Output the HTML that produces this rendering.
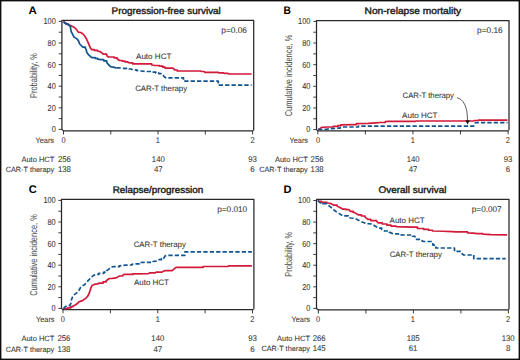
<!DOCTYPE html>
<html><head><meta charset="utf-8"><style>
html,body{margin:0;padding:0;background:#fff;}
body{width:520px;height:360px;overflow:hidden;font-family:"Liberation Sans", sans-serif;}
svg{display:block;}
</style></head><body>
<svg width="520" height="360" viewBox="0 0 520 360" font-family='"Liberation Sans", sans-serif' text-rendering="geometricPrecision">
<rect x="0" y="0" width="520" height="360" fill="#fff"/>
<text x="28.60" y="14.00" font-size="11" textLength="8.30" lengthAdjust="spacingAndGlyphs" font-weight="bold" fill="#000">A</text>
<text x="283.60" y="14.00" font-size="11" textLength="7.40" lengthAdjust="spacingAndGlyphs" font-weight="bold" fill="#000">B</text>
<text x="28.70" y="193.00" font-size="11" textLength="8.00" lengthAdjust="spacingAndGlyphs" font-weight="bold" fill="#000">C</text>
<text x="283.60" y="192.90" font-size="11" textLength="8.00" lengthAdjust="spacingAndGlyphs" font-weight="bold" fill="#000">D</text>
<text x="111.60" y="14.20" font-size="9.6" textLength="109.20" lengthAdjust="spacingAndGlyphs" fill="#231f20" stroke="#231f20" stroke-width="0.42">Progression-free survival</text>
<text x="364.60" y="14.20" font-size="9.6" textLength="96.60" lengthAdjust="spacingAndGlyphs" fill="#231f20" stroke="#231f20" stroke-width="0.42">Non-relapse mortality</text>
<text x="112.70" y="193.00" font-size="9.6" textLength="90.60" lengthAdjust="spacingAndGlyphs" fill="#231f20" stroke="#231f20" stroke-width="0.42">Relapse/progression</text>
<text x="378.60" y="193.00" font-size="9.6" textLength="67.80" lengthAdjust="spacingAndGlyphs" fill="#231f20" stroke="#231f20" stroke-width="0.42">Overall survival</text>
<text x="35.60" y="142.90" font-size="7.8" textLength="18.40" lengthAdjust="spacingAndGlyphs" fill="#383838" stroke="#383838" stroke-width="0.08">Years</text>
<text x="289.60" y="142.70" font-size="7.8" textLength="18.40" lengthAdjust="spacingAndGlyphs" fill="#383838" stroke="#383838" stroke-width="0.08">Years</text>
<text x="36.10" y="322.00" font-size="7.8" textLength="18.40" lengthAdjust="spacingAndGlyphs" fill="#383838" stroke="#383838" stroke-width="0.08">Years</text>
<text x="291.60" y="322.00" font-size="7.8" textLength="18.40" lengthAdjust="spacingAndGlyphs" fill="#383838" stroke="#383838" stroke-width="0.08">Years</text>
<path d="M253.70,130.50 L253.70,20.40 L61.90,20.40 L61.90,129.40 L63.50,130.90 L253.40,130.90" fill="none" stroke="#2b2728" stroke-width="1.25" stroke-linejoin="round"/>
<line x1="58.70" y1="21.40" x2="61.90" y2="21.40" stroke="#2b2728" stroke-width="0.9"/>
<line x1="58.70" y1="32.20" x2="61.90" y2="32.20" stroke="#2b2728" stroke-width="0.9"/>
<line x1="58.70" y1="43.00" x2="61.90" y2="43.00" stroke="#2b2728" stroke-width="0.9"/>
<line x1="58.70" y1="53.80" x2="61.90" y2="53.80" stroke="#2b2728" stroke-width="0.9"/>
<line x1="58.70" y1="64.60" x2="61.90" y2="64.60" stroke="#2b2728" stroke-width="0.9"/>
<line x1="58.70" y1="75.40" x2="61.90" y2="75.40" stroke="#2b2728" stroke-width="0.9"/>
<line x1="58.70" y1="86.20" x2="61.90" y2="86.20" stroke="#2b2728" stroke-width="0.9"/>
<line x1="58.70" y1="97.00" x2="61.90" y2="97.00" stroke="#2b2728" stroke-width="0.9"/>
<line x1="58.70" y1="107.80" x2="61.90" y2="107.80" stroke="#2b2728" stroke-width="0.9"/>
<line x1="58.70" y1="118.60" x2="61.90" y2="118.60" stroke="#2b2728" stroke-width="0.9"/>
<line x1="58.70" y1="129.40" x2="61.90" y2="129.40" stroke="#2b2728" stroke-width="0.9"/>
<line x1="63.50" y1="130.90" x2="63.50" y2="134.50" stroke="#2b2728" stroke-width="0.9"/>
<line x1="110.78" y1="130.90" x2="110.78" y2="134.50" stroke="#2b2728" stroke-width="0.9"/>
<line x1="158.05" y1="130.90" x2="158.05" y2="134.50" stroke="#2b2728" stroke-width="0.9"/>
<line x1="205.32" y1="130.90" x2="205.32" y2="134.50" stroke="#2b2728" stroke-width="0.9"/>
<line x1="252.60" y1="130.90" x2="252.60" y2="134.50" stroke="#2b2728" stroke-width="0.9"/>
<path d="M509.00,130.35 L509.00,20.50 L316.50,20.50 L316.50,129.60 L317.80,130.75 L508.70,130.75" fill="none" stroke="#2b2728" stroke-width="1.25" stroke-linejoin="round"/>
<line x1="313.30" y1="21.40" x2="316.50" y2="21.40" stroke="#2b2728" stroke-width="0.9"/>
<line x1="313.30" y1="32.22" x2="316.50" y2="32.22" stroke="#2b2728" stroke-width="0.9"/>
<line x1="313.30" y1="43.04" x2="316.50" y2="43.04" stroke="#2b2728" stroke-width="0.9"/>
<line x1="313.30" y1="53.86" x2="316.50" y2="53.86" stroke="#2b2728" stroke-width="0.9"/>
<line x1="313.30" y1="64.68" x2="316.50" y2="64.68" stroke="#2b2728" stroke-width="0.9"/>
<line x1="313.30" y1="75.50" x2="316.50" y2="75.50" stroke="#2b2728" stroke-width="0.9"/>
<line x1="313.30" y1="86.32" x2="316.50" y2="86.32" stroke="#2b2728" stroke-width="0.9"/>
<line x1="313.30" y1="97.14" x2="316.50" y2="97.14" stroke="#2b2728" stroke-width="0.9"/>
<line x1="313.30" y1="107.96" x2="316.50" y2="107.96" stroke="#2b2728" stroke-width="0.9"/>
<line x1="313.30" y1="118.78" x2="316.50" y2="118.78" stroke="#2b2728" stroke-width="0.9"/>
<line x1="313.30" y1="129.60" x2="316.50" y2="129.60" stroke="#2b2728" stroke-width="0.9"/>
<line x1="317.80" y1="130.75" x2="317.80" y2="134.35" stroke="#2b2728" stroke-width="0.9"/>
<line x1="365.38" y1="130.75" x2="365.38" y2="134.35" stroke="#2b2728" stroke-width="0.9"/>
<line x1="412.95" y1="130.75" x2="412.95" y2="134.35" stroke="#2b2728" stroke-width="0.9"/>
<line x1="460.53" y1="130.75" x2="460.53" y2="134.35" stroke="#2b2728" stroke-width="0.9"/>
<line x1="508.10" y1="130.75" x2="508.10" y2="134.35" stroke="#2b2728" stroke-width="0.9"/>
<path d="M253.90,309.30 L253.90,199.40 L61.50,199.40 L61.50,308.40 L63.00,309.70 L253.60,309.70" fill="none" stroke="#2b2728" stroke-width="1.25" stroke-linejoin="round"/>
<line x1="58.30" y1="200.40" x2="61.50" y2="200.40" stroke="#2b2728" stroke-width="0.9"/>
<line x1="58.30" y1="211.20" x2="61.50" y2="211.20" stroke="#2b2728" stroke-width="0.9"/>
<line x1="58.30" y1="222.00" x2="61.50" y2="222.00" stroke="#2b2728" stroke-width="0.9"/>
<line x1="58.30" y1="232.80" x2="61.50" y2="232.80" stroke="#2b2728" stroke-width="0.9"/>
<line x1="58.30" y1="243.60" x2="61.50" y2="243.60" stroke="#2b2728" stroke-width="0.9"/>
<line x1="58.30" y1="254.40" x2="61.50" y2="254.40" stroke="#2b2728" stroke-width="0.9"/>
<line x1="58.30" y1="265.20" x2="61.50" y2="265.20" stroke="#2b2728" stroke-width="0.9"/>
<line x1="58.30" y1="276.00" x2="61.50" y2="276.00" stroke="#2b2728" stroke-width="0.9"/>
<line x1="58.30" y1="286.80" x2="61.50" y2="286.80" stroke="#2b2728" stroke-width="0.9"/>
<line x1="58.30" y1="297.60" x2="61.50" y2="297.60" stroke="#2b2728" stroke-width="0.9"/>
<line x1="58.30" y1="308.40" x2="61.50" y2="308.40" stroke="#2b2728" stroke-width="0.9"/>
<line x1="63.00" y1="309.70" x2="63.00" y2="313.30" stroke="#2b2728" stroke-width="0.9"/>
<line x1="110.38" y1="309.70" x2="110.38" y2="313.30" stroke="#2b2728" stroke-width="0.9"/>
<line x1="157.75" y1="309.70" x2="157.75" y2="313.30" stroke="#2b2728" stroke-width="0.9"/>
<line x1="205.12" y1="309.70" x2="205.12" y2="313.30" stroke="#2b2728" stroke-width="0.9"/>
<line x1="252.50" y1="309.70" x2="252.50" y2="313.30" stroke="#2b2728" stroke-width="0.9"/>
<path d="M509.00,309.50 L509.00,199.40 L316.50,199.40 L316.50,308.40 L318.40,309.90 L508.70,309.90" fill="none" stroke="#2b2728" stroke-width="1.25" stroke-linejoin="round"/>
<line x1="313.30" y1="200.50" x2="316.50" y2="200.50" stroke="#2b2728" stroke-width="0.9"/>
<line x1="313.30" y1="211.29" x2="316.50" y2="211.29" stroke="#2b2728" stroke-width="0.9"/>
<line x1="313.30" y1="222.08" x2="316.50" y2="222.08" stroke="#2b2728" stroke-width="0.9"/>
<line x1="313.30" y1="232.87" x2="316.50" y2="232.87" stroke="#2b2728" stroke-width="0.9"/>
<line x1="313.30" y1="243.66" x2="316.50" y2="243.66" stroke="#2b2728" stroke-width="0.9"/>
<line x1="313.30" y1="254.45" x2="316.50" y2="254.45" stroke="#2b2728" stroke-width="0.9"/>
<line x1="313.30" y1="265.24" x2="316.50" y2="265.24" stroke="#2b2728" stroke-width="0.9"/>
<line x1="313.30" y1="276.03" x2="316.50" y2="276.03" stroke="#2b2728" stroke-width="0.9"/>
<line x1="313.30" y1="286.82" x2="316.50" y2="286.82" stroke="#2b2728" stroke-width="0.9"/>
<line x1="313.30" y1="297.61" x2="316.50" y2="297.61" stroke="#2b2728" stroke-width="0.9"/>
<line x1="313.30" y1="308.40" x2="316.50" y2="308.40" stroke="#2b2728" stroke-width="0.9"/>
<line x1="318.40" y1="309.90" x2="318.40" y2="313.50" stroke="#2b2728" stroke-width="0.9"/>
<line x1="365.90" y1="309.90" x2="365.90" y2="313.50" stroke="#2b2728" stroke-width="0.9"/>
<line x1="413.40" y1="309.90" x2="413.40" y2="313.50" stroke="#2b2728" stroke-width="0.9"/>
<line x1="460.90" y1="309.90" x2="460.90" y2="313.50" stroke="#2b2728" stroke-width="0.9"/>
<line x1="508.40" y1="309.90" x2="508.40" y2="313.50" stroke="#2b2728" stroke-width="0.9"/>
<text x="55.80" y="24.40" font-size="8.6" textLength="12.30" lengthAdjust="spacingAndGlyphs" text-anchor="end" fill="#383838" stroke="#383838" stroke-width="0.08">100</text>
<text x="55.80" y="46.00" font-size="8.6" textLength="8.20" lengthAdjust="spacingAndGlyphs" text-anchor="end" fill="#383838" stroke="#383838" stroke-width="0.08">80</text>
<text x="55.80" y="67.60" font-size="8.6" textLength="8.20" lengthAdjust="spacingAndGlyphs" text-anchor="end" fill="#383838" stroke="#383838" stroke-width="0.08">60</text>
<text x="55.80" y="89.20" font-size="8.6" textLength="8.20" lengthAdjust="spacingAndGlyphs" text-anchor="end" fill="#383838" stroke="#383838" stroke-width="0.08">40</text>
<text x="55.80" y="110.80" font-size="8.6" textLength="8.20" lengthAdjust="spacingAndGlyphs" text-anchor="end" fill="#383838" stroke="#383838" stroke-width="0.08">20</text>
<text x="55.80" y="132.40" font-size="8.6" textLength="4.10" lengthAdjust="spacingAndGlyphs" text-anchor="end" fill="#383838" stroke="#383838" stroke-width="0.08">0</text>
<text x="310.40" y="24.40" font-size="8.6" textLength="12.30" lengthAdjust="spacingAndGlyphs" text-anchor="end" fill="#383838" stroke="#383838" stroke-width="0.08">100</text>
<text x="310.40" y="46.00" font-size="8.6" textLength="8.20" lengthAdjust="spacingAndGlyphs" text-anchor="end" fill="#383838" stroke="#383838" stroke-width="0.08">80</text>
<text x="310.40" y="67.60" font-size="8.6" textLength="8.20" lengthAdjust="spacingAndGlyphs" text-anchor="end" fill="#383838" stroke="#383838" stroke-width="0.08">60</text>
<text x="310.40" y="89.20" font-size="8.6" textLength="8.20" lengthAdjust="spacingAndGlyphs" text-anchor="end" fill="#383838" stroke="#383838" stroke-width="0.08">40</text>
<text x="310.40" y="110.80" font-size="8.6" textLength="8.20" lengthAdjust="spacingAndGlyphs" text-anchor="end" fill="#383838" stroke="#383838" stroke-width="0.08">20</text>
<text x="310.40" y="132.40" font-size="8.6" textLength="4.10" lengthAdjust="spacingAndGlyphs" text-anchor="end" fill="#383838" stroke="#383838" stroke-width="0.08">0</text>
<text x="55.70" y="203.40" font-size="8.6" textLength="12.30" lengthAdjust="spacingAndGlyphs" text-anchor="end" fill="#383838" stroke="#383838" stroke-width="0.08">100</text>
<text x="55.70" y="225.00" font-size="8.6" textLength="8.20" lengthAdjust="spacingAndGlyphs" text-anchor="end" fill="#383838" stroke="#383838" stroke-width="0.08">80</text>
<text x="55.70" y="246.60" font-size="8.6" textLength="8.20" lengthAdjust="spacingAndGlyphs" text-anchor="end" fill="#383838" stroke="#383838" stroke-width="0.08">60</text>
<text x="55.70" y="268.20" font-size="8.6" textLength="8.20" lengthAdjust="spacingAndGlyphs" text-anchor="end" fill="#383838" stroke="#383838" stroke-width="0.08">40</text>
<text x="55.70" y="289.80" font-size="8.6" textLength="8.20" lengthAdjust="spacingAndGlyphs" text-anchor="end" fill="#383838" stroke="#383838" stroke-width="0.08">20</text>
<text x="55.70" y="311.40" font-size="8.6" textLength="4.10" lengthAdjust="spacingAndGlyphs" text-anchor="end" fill="#383838" stroke="#383838" stroke-width="0.08">0</text>
<text x="310.40" y="203.40" font-size="8.6" textLength="12.30" lengthAdjust="spacingAndGlyphs" text-anchor="end" fill="#383838" stroke="#383838" stroke-width="0.08">100</text>
<text x="310.40" y="225.00" font-size="8.6" textLength="8.20" lengthAdjust="spacingAndGlyphs" text-anchor="end" fill="#383838" stroke="#383838" stroke-width="0.08">80</text>
<text x="310.40" y="246.60" font-size="8.6" textLength="8.20" lengthAdjust="spacingAndGlyphs" text-anchor="end" fill="#383838" stroke="#383838" stroke-width="0.08">60</text>
<text x="310.40" y="268.20" font-size="8.6" textLength="8.20" lengthAdjust="spacingAndGlyphs" text-anchor="end" fill="#383838" stroke="#383838" stroke-width="0.08">40</text>
<text x="310.40" y="289.80" font-size="8.6" textLength="8.20" lengthAdjust="spacingAndGlyphs" text-anchor="end" fill="#383838" stroke="#383838" stroke-width="0.08">20</text>
<text x="310.40" y="311.40" font-size="8.6" textLength="4.10" lengthAdjust="spacingAndGlyphs" text-anchor="end" fill="#383838" stroke="#383838" stroke-width="0.08">0</text>
<text x="63.50" y="143.00" font-size="8.3" textLength="4.10" lengthAdjust="spacingAndGlyphs" text-anchor="middle" fill="#383838" stroke="#383838" stroke-width="0.08">0</text>
<text x="157.90" y="143.00" font-size="8.3" textLength="4.10" lengthAdjust="spacingAndGlyphs" text-anchor="middle" fill="#383838" stroke="#383838" stroke-width="0.08">1</text>
<text x="252.50" y="143.00" font-size="8.3" textLength="4.10" lengthAdjust="spacingAndGlyphs" text-anchor="middle" fill="#383838" stroke="#383838" stroke-width="0.08">2</text>
<text x="318.00" y="142.90" font-size="8.3" textLength="4.10" lengthAdjust="spacingAndGlyphs" text-anchor="middle" fill="#383838" stroke="#383838" stroke-width="0.08">0</text>
<text x="412.90" y="142.90" font-size="8.3" textLength="4.10" lengthAdjust="spacingAndGlyphs" text-anchor="middle" fill="#383838" stroke="#383838" stroke-width="0.08">1</text>
<text x="507.90" y="142.90" font-size="8.3" textLength="4.10" lengthAdjust="spacingAndGlyphs" text-anchor="middle" fill="#383838" stroke="#383838" stroke-width="0.08">2</text>
<text x="62.70" y="322.10" font-size="8.3" textLength="4.10" lengthAdjust="spacingAndGlyphs" text-anchor="middle" fill="#383838" stroke="#383838" stroke-width="0.08">0</text>
<text x="157.80" y="322.10" font-size="8.3" textLength="4.10" lengthAdjust="spacingAndGlyphs" text-anchor="middle" fill="#383838" stroke="#383838" stroke-width="0.08">1</text>
<text x="252.40" y="322.10" font-size="8.3" textLength="4.10" lengthAdjust="spacingAndGlyphs" text-anchor="middle" fill="#383838" stroke="#383838" stroke-width="0.08">2</text>
<text x="318.10" y="322.10" font-size="8.3" textLength="4.10" lengthAdjust="spacingAndGlyphs" text-anchor="middle" fill="#383838" stroke="#383838" stroke-width="0.08">0</text>
<text x="412.90" y="322.10" font-size="8.3" textLength="4.10" lengthAdjust="spacingAndGlyphs" text-anchor="middle" fill="#383838" stroke="#383838" stroke-width="0.08">1</text>
<text x="508.00" y="322.10" font-size="8.3" textLength="4.10" lengthAdjust="spacingAndGlyphs" text-anchor="middle" fill="#383838" stroke="#383838" stroke-width="0.08">2</text>
<text transform="translate(37.00,98.00) rotate(-90)" x="0" y="0" font-size="10" textLength="45.00" lengthAdjust="spacingAndGlyphs" fill="#4a4a4a">Probability, %</text>
<text transform="translate(291.80,116.30) rotate(-90)" x="0" y="0" font-size="10" textLength="81.70" lengthAdjust="spacingAndGlyphs" fill="#4a4a4a">Cumulative incidence, %</text>
<text transform="translate(37.00,295.80) rotate(-90)" x="0" y="0" font-size="10" textLength="81.60" lengthAdjust="spacingAndGlyphs" fill="#4a4a4a">Cumulative incidence, %</text>
<text transform="translate(291.80,276.80) rotate(-90)" x="0" y="0" font-size="10" textLength="45.00" lengthAdjust="spacingAndGlyphs" fill="#4a4a4a">Probability, %</text>
<text x="221.30" y="33.00" font-size="8.3" textLength="25.70" lengthAdjust="spacingAndGlyphs" fill="#383838" stroke="#383838" stroke-width="0.08">p=0.06</text>
<text x="477.10" y="33.00" font-size="8.3" textLength="25.60" lengthAdjust="spacingAndGlyphs" fill="#383838" stroke="#383838" stroke-width="0.08">p=0.16</text>
<text x="217.20" y="212.00" font-size="8.3" textLength="30.00" lengthAdjust="spacingAndGlyphs" fill="#383838" stroke="#383838" stroke-width="0.08">p=0.010</text>
<text x="471.80" y="212.00" font-size="8.3" textLength="29.90" lengthAdjust="spacingAndGlyphs" fill="#383838" stroke="#383838" stroke-width="0.08">p=0.007</text>
<text x="136.00" y="58.90" font-size="7.9" textLength="35.40" lengthAdjust="spacingAndGlyphs" fill="#383838" stroke="#383838" stroke-width="0.08">Auto HCT</text>
<text x="135.20" y="91.20" font-size="7.9" textLength="51.90" lengthAdjust="spacingAndGlyphs" fill="#383838" stroke="#383838" stroke-width="0.08">CAR-T therapy</text>
<text x="402.60" y="98.10" font-size="7.9" textLength="51.40" lengthAdjust="spacingAndGlyphs" fill="#383838" stroke="#383838" stroke-width="0.08">CAR-T therapy</text>
<text x="402.10" y="117.50" font-size="7.9" textLength="35.40" lengthAdjust="spacingAndGlyphs" fill="#383838" stroke="#383838" stroke-width="0.08">Auto HCT</text>
<text x="133.70" y="246.50" font-size="7.9" textLength="52.20" lengthAdjust="spacingAndGlyphs" fill="#383838" stroke="#383838" stroke-width="0.08">CAR-T therapy</text>
<text x="134.00" y="284.90" font-size="7.9" textLength="35.00" lengthAdjust="spacingAndGlyphs" fill="#383838" stroke="#383838" stroke-width="0.08">Auto HCT</text>
<text x="389.60" y="222.80" font-size="7.9" textLength="35.00" lengthAdjust="spacingAndGlyphs" fill="#383838" stroke="#383838" stroke-width="0.08">Auto HCT</text>
<text x="389.70" y="257.20" font-size="7.9" textLength="52.20" lengthAdjust="spacingAndGlyphs" fill="#383838" stroke="#383838" stroke-width="0.08">CAR-T therapy</text>
<text x="21.40" y="161.90" font-size="7.5" textLength="32.90" lengthAdjust="spacingAndGlyphs" fill="#383838" stroke="#383838" stroke-width="0.08">Auto HCT</text>
<text x="5.70" y="172.30" font-size="7.5" textLength="48.60" lengthAdjust="spacingAndGlyphs" fill="#383838" stroke="#383838" stroke-width="0.08">CAR-T therapy</text>
<text x="57.90" y="161.90" font-size="8.3" textLength="12.95" lengthAdjust="spacingAndGlyphs" fill="#383838" stroke="#383838" stroke-width="0.08">256</text>
<text x="57.90" y="172.30" font-size="8.3" textLength="12.95" lengthAdjust="spacingAndGlyphs" fill="#383838" stroke="#383838" stroke-width="0.08">138</text>
<text x="158.30" y="161.90" font-size="8.3" textLength="12.95" lengthAdjust="spacingAndGlyphs" text-anchor="middle" fill="#383838" stroke="#383838" stroke-width="0.08">140</text>
<text x="158.30" y="172.30" font-size="8.3" textLength="8.70" lengthAdjust="spacingAndGlyphs" text-anchor="middle" fill="#383838" stroke="#383838" stroke-width="0.08">47</text>
<text x="252.50" y="161.90" font-size="8.3" textLength="8.70" lengthAdjust="spacingAndGlyphs" text-anchor="middle" fill="#383838" stroke="#383838" stroke-width="0.08">93</text>
<text x="252.50" y="172.30" font-size="8.3" textLength="4.45" lengthAdjust="spacingAndGlyphs" text-anchor="middle" fill="#383838" stroke="#383838" stroke-width="0.08">6</text>
<text x="274.90" y="161.70" font-size="7.5" textLength="32.90" lengthAdjust="spacingAndGlyphs" fill="#383838" stroke="#383838" stroke-width="0.08">Auto HCT</text>
<text x="259.20" y="172.10" font-size="7.5" textLength="48.60" lengthAdjust="spacingAndGlyphs" fill="#383838" stroke="#383838" stroke-width="0.08">CAR-T therapy</text>
<text x="310.60" y="161.70" font-size="8.3" textLength="12.95" lengthAdjust="spacingAndGlyphs" fill="#383838" stroke="#383838" stroke-width="0.08">256</text>
<text x="310.60" y="172.10" font-size="8.3" textLength="12.95" lengthAdjust="spacingAndGlyphs" fill="#383838" stroke="#383838" stroke-width="0.08">138</text>
<text x="413.10" y="161.70" font-size="8.3" textLength="12.95" lengthAdjust="spacingAndGlyphs" text-anchor="middle" fill="#383838" stroke="#383838" stroke-width="0.08">140</text>
<text x="413.10" y="172.10" font-size="8.3" textLength="8.70" lengthAdjust="spacingAndGlyphs" text-anchor="middle" fill="#383838" stroke="#383838" stroke-width="0.08">47</text>
<text x="508.00" y="161.70" font-size="8.3" textLength="8.70" lengthAdjust="spacingAndGlyphs" text-anchor="middle" fill="#383838" stroke="#383838" stroke-width="0.08">93</text>
<text x="508.00" y="172.10" font-size="8.3" textLength="4.45" lengthAdjust="spacingAndGlyphs" text-anchor="middle" fill="#383838" stroke="#383838" stroke-width="0.08">6</text>
<text x="21.40" y="341.20" font-size="7.5" textLength="32.90" lengthAdjust="spacingAndGlyphs" fill="#383838" stroke="#383838" stroke-width="0.08">Auto HCT</text>
<text x="5.70" y="351.60" font-size="7.5" textLength="48.60" lengthAdjust="spacingAndGlyphs" fill="#383838" stroke="#383838" stroke-width="0.08">CAR-T therapy</text>
<text x="57.40" y="341.20" font-size="8.3" textLength="12.95" lengthAdjust="spacingAndGlyphs" fill="#383838" stroke="#383838" stroke-width="0.08">256</text>
<text x="57.40" y="351.60" font-size="8.3" textLength="12.95" lengthAdjust="spacingAndGlyphs" fill="#383838" stroke="#383838" stroke-width="0.08">138</text>
<text x="157.80" y="341.20" font-size="8.3" textLength="12.95" lengthAdjust="spacingAndGlyphs" text-anchor="middle" fill="#383838" stroke="#383838" stroke-width="0.08">140</text>
<text x="157.80" y="351.60" font-size="8.3" textLength="8.70" lengthAdjust="spacingAndGlyphs" text-anchor="middle" fill="#383838" stroke="#383838" stroke-width="0.08">47</text>
<text x="252.50" y="341.20" font-size="8.3" textLength="8.70" lengthAdjust="spacingAndGlyphs" text-anchor="middle" fill="#383838" stroke="#383838" stroke-width="0.08">93</text>
<text x="252.50" y="351.60" font-size="8.3" textLength="4.45" lengthAdjust="spacingAndGlyphs" text-anchor="middle" fill="#383838" stroke="#383838" stroke-width="0.08">6</text>
<text x="277.10" y="340.90" font-size="7.5" textLength="32.90" lengthAdjust="spacingAndGlyphs" fill="#383838" stroke="#383838" stroke-width="0.08">Auto HCT</text>
<text x="261.40" y="351.30" font-size="7.5" textLength="48.60" lengthAdjust="spacingAndGlyphs" fill="#383838" stroke="#383838" stroke-width="0.08">CAR-T therapy</text>
<text x="312.70" y="340.90" font-size="8.3" textLength="12.95" lengthAdjust="spacingAndGlyphs" fill="#383838" stroke="#383838" stroke-width="0.08">266</text>
<text x="312.70" y="351.30" font-size="8.3" textLength="12.95" lengthAdjust="spacingAndGlyphs" fill="#383838" stroke="#383838" stroke-width="0.08">145</text>
<text x="413.10" y="340.90" font-size="8.3" textLength="12.95" lengthAdjust="spacingAndGlyphs" text-anchor="middle" fill="#383838" stroke="#383838" stroke-width="0.08">185</text>
<text x="413.10" y="351.30" font-size="8.3" textLength="8.70" lengthAdjust="spacingAndGlyphs" text-anchor="middle" fill="#383838" stroke="#383838" stroke-width="0.08">61</text>
<text x="508.20" y="340.90" font-size="8.3" textLength="12.95" lengthAdjust="spacingAndGlyphs" text-anchor="middle" fill="#383838" stroke="#383838" stroke-width="0.08">130</text>
<text x="508.20" y="351.30" font-size="8.3" textLength="4.45" lengthAdjust="spacingAndGlyphs" text-anchor="middle" fill="#383838" stroke="#383838" stroke-width="0.08">8</text>
<path d="M63.50,21.50 L64.10,22.10 L67.00,23.75 L69.50,25.00 L72.00,26.25 L74.50,27.50 L76.60,29.60 L78.25,32.10 L80.75,32.50 L82.80,33.75 L84.90,36.25 L86.60,39.20 L88.25,42.90 L89.50,45.80 L90.60,48.30 L91.80,49.60 L94.30,49.60 L94.30,50.40 L97.70,50.40 L97.70,51.25 L100.20,51.70 L101.80,52.90 L103.50,54.20 L106.70,54.20 L106.70,55.60 L108.40,57.00 L114.20,57.00 L114.20,57.90 L117.00,57.90 L117.00,58.50 L119.40,60.50 L122.20,60.50 L122.20,61.10 L125.10,61.10 L125.10,61.90 L128.00,61.90 L128.00,62.50 L130.00,62.80 L132.80,62.80 L132.80,63.90 L148.90,63.90 L151.70,63.90 L151.70,65.00 L155.00,65.50 L159.40,65.50 L159.40,66.10 L162.80,66.10 L162.80,67.20 L165.00,67.20 L165.00,68.10 L172.80,68.10 L175.00,70.00 L177.20,70.00 L177.20,71.00 L200.40,71.00 L201.70,71.50 L204.20,71.50 L205.00,72.40 L218.30,72.40 L218.75,72.90 L223.30,72.90 L224.20,73.30 L227.90,73.30 L228.75,74.00 L251.70,74.00" fill="none" stroke="#d21a3a" stroke-width="1.7" stroke-linejoin="round"/>
<path d="M63.50,21.50 L64.10,22.50 L66.20,24.20 L68.25,24.20 L68.25,25.00 L70.30,26.25 L70.75,29.20 L71.20,31.70 L72.40,33.75 L73.70,36.70 L75.30,37.90 L77.40,39.20 L78.70,41.25 L79.50,43.75 L80.75,45.00 L82.80,47.10 L85.30,47.10 L85.30,48.30 L86.20,49.50 L86.80,52.50 L88.50,54.60 L90.60,56.70 L92.25,57.70 L95.20,57.70 L95.20,58.30 L97.70,58.30 L97.70,59.20 L100.90,59.60 L103.80,59.60 L103.80,60.80 L106.70,60.80 L106.70,62.20 L107.80,63.90 L109.50,65.70 L111.00,66.80 L113.60,67.10 L115.30,67.80 L116.50,67.80" fill="none" stroke="#12548f" stroke-width="1.7" stroke-linejoin="round"/>
<path d="M116.50,67.80 L118.90,67.80 L123.50,68.30 L126.40,68.30 L126.40,69.00 L131.00,69.00 L132.80,69.80 L136.80,69.80 L136.80,70.60 L140.80,71.00 L145.50,71.50 L150.00,71.50 L152.40,71.50 L152.40,72.10 L155.80,72.10 L155.80,72.90 L158.70,72.90 L158.70,73.60 L161.00,73.60 L161.00,74.40 L163.30,75.60 L165.00,77.30 L166.20,77.90 L183.50,77.90 L183.50,81.20 L218.30,81.20 L218.30,85.10 L251.60,85.10" fill="none" stroke="#12548f" stroke-width="1.7" stroke-linejoin="round" stroke-dasharray="4.3 2.1"/>
<path d="M318.10,129.40 L319.40,129.20 L320.60,128.10 L321.80,127.30 L327.50,127.00 L333.30,127.00 L333.30,126.30 L337.90,126.30 L337.90,125.70 L340.80,125.70 L340.80,124.80 L353.60,124.60 L356.50,124.60 L356.50,123.60 L368.00,123.30 L375.70,122.80 L380.50,122.50 L385.30,122.50 L385.30,121.50 L388.20,121.40 L415.60,121.40 L416.20,121.00 L473.50,121.00 L474.40,120.50 L477.80,120.50 L478.75,120.10 L507.50,120.10" fill="none" stroke="#d21a3a" stroke-width="1.7" stroke-linejoin="round"/>
<path d="M318.10,129.40 L322.90,129.50 L326.40,129.30 L328.70,128.80 L332.20,128.60 L335.00,128.40 L337.90,128.10 L340.20,128.10 L340.20,127.50 L342.00,127.00 L354.60,127.00 L358.40,127.00 L358.40,126.20 L473.50,126.10 L474.40,124.10 L475.40,122.70 L507.50,122.70" fill="none" stroke="#12548f" stroke-width="1.7" stroke-linejoin="round" stroke-dasharray="4.3 2.1"/>
<path d="M63.30,308.40 L64.20,308.60 L67.60,308.60 L67.60,307.80 L70.90,307.80 L70.90,306.70 L73.10,306.70 L73.10,306.10 L75.30,305.00 L77.60,303.30 L79.20,301.70 L80.90,301.10 L82.60,300.60 L84.20,299.40 L85.90,298.30 L88.10,295.60 L89.80,291.70 L90.90,287.80 L92.00,285.60 L94.20,284.40 L97.60,283.90 L99.50,283.10 L103.10,283.10 L103.10,281.80 L106.20,281.80 L106.20,280.70 L109.30,278.50 L112.40,278.30 L116.30,277.90 L119.40,276.00 L122.60,276.00 L122.60,275.20 L124.10,274.40 L130.30,274.40 L132.70,274.40 L132.70,273.80 L148.50,273.60 L149.50,272.90 L155.20,272.90 L156.20,272.10 L162.00,272.10 L163.40,271.20 L164.80,270.70 L172.10,270.70 L175.40,267.80 L176.40,267.30 L200.60,267.30 L203.10,267.30 L203.10,266.50 L227.90,266.50 L228.70,265.80 L251.90,265.80" fill="none" stroke="#d21a3a" stroke-width="1.7" stroke-linejoin="round"/>
<path d="M63.30,308.40 L63.70,308.30 L65.30,306.70 L67.60,305.30 L69.80,305.60 L70.90,303.30 L71.40,300.00 L72.60,296.70 L73.70,295.00 L75.30,293.90 L77.60,292.20 L79.20,290.00 L80.30,287.80 L82.00,286.10 L84.20,285.00 L86.40,282.80 L88.10,280.60 L90.30,278.30 L92.60,276.10 L95.30,274.40 L98.70,274.40 L98.70,273.30 L100.00,273.30 L103.90,273.30 L103.90,272.10 L106.60,272.10 L106.60,270.90 L108.60,269.40 L110.90,267.10 L114.00,266.70 L119.40,266.70 L119.40,265.90 L123.30,265.50 L124.90,265.10 L129.50,265.00 L131.90,265.00 L131.90,264.30 L135.80,263.90 L139.80,263.90 L139.80,262.50 L148.50,262.30 L152.30,262.30 L152.30,261.50 L156.20,261.10 L159.10,259.60 L161.50,259.60 L161.50,258.70 L163.90,258.70 L163.90,257.70 L165.30,255.80 L167.70,255.30 L184.90,255.30 L184.90,251.90 L251.90,251.90" fill="none" stroke="#12548f" stroke-width="1.7" stroke-linejoin="round" stroke-dasharray="4.3 2.1"/>
<path d="M318.10,200.40 L318.80,201.30 L321.60,201.30 L321.60,202.40 L327.10,202.40 L327.10,203.00 L330.40,203.30 L333.80,205.20 L337.10,205.20 L337.10,206.00 L339.90,207.40 L342.70,209.10 L346.00,209.10 L346.00,209.70 L348.80,209.70 L350.40,211.30 L353.20,211.30 L353.20,212.40 L354.60,212.60 L358.10,214.80 L361.50,214.80 L361.50,216.00 L365.00,216.00 L365.00,217.10 L367.90,219.40 L370.80,219.40 L370.80,220.60 L376.50,220.60 L376.50,221.20 L378.30,222.90 L382.30,222.90 L382.30,224.00 L386.90,224.00 L386.90,225.20 L391.00,225.20 L391.00,226.10 L396.20,226.10 L396.20,226.70 L403.10,226.90 L413.75,227.10 L417.50,227.10 L417.50,228.50 L423.75,228.50 L423.75,229.40 L428.75,229.40 L428.75,230.25 L432.50,230.25 L432.50,231.00 L442.50,231.25 L452.50,231.60 L455.00,231.90 L464.70,231.90 L467.50,231.90 L467.50,232.80 L473.10,233.20 L477.20,233.60 L482.80,233.60 L482.80,234.20 L491.10,234.60 L507.10,234.90" fill="none" stroke="#d21a3a" stroke-width="1.7" stroke-linejoin="round"/>
<path d="M318.10,200.40 L318.20,200.80 L320.40,203.00 L322.70,203.00 L322.70,203.60 L326.00,203.60 L328.20,205.20 L330.40,206.90 L332.70,208.60 L334.90,210.80 L336.60,211.90 L339.30,213.60 L342.70,215.80 L344.90,215.80 L348.20,215.80 L348.20,216.70 L350.40,218.00 L354.60,218.30 L358.10,220.00 L361.50,221.70 L366.20,223.50 L371.90,224.00 L375.40,226.30 L378.80,228.10 L381.70,228.10 L381.70,229.50 L384.60,231.00 L389.20,231.00 L389.20,232.10 L393.30,233.80 L398.50,233.80 L398.50,234.80 L404.20,235.00 L408.75,235.00 L412.50,235.00 L412.50,236.25 L415.00,236.25 L415.00,237.25 L415.60,239.40 L421.25,239.40 L421.25,240.00 L423.10,241.50 L431.90,241.50 L432.90,242.25 L432.90,245.10 L435.80,245.10 L435.80,248.00 L454.50,248.00 L454.50,251.40 L460.80,251.40 L462.20,253.80 L463.70,255.00 L473.75,255.00 L473.75,258.60 L505.70,258.60" fill="none" stroke="#12548f" stroke-width="1.7" stroke-linejoin="round" stroke-dasharray="4.3 2.1"/>
<path d="M456.9,97.7 C463,99 467.5,106 467.5,120" fill="none" stroke="#333" stroke-width="0.8"/>
<path d="M465.4,120.2 L469.7,120.2 L467.55,124.6 Z" fill="#111"/>
<rect x="0.7" y="0.7" width="518.6" height="358.6" fill="none" stroke="#110d0e" stroke-width="1.4"/>
</svg>
</body></html>
